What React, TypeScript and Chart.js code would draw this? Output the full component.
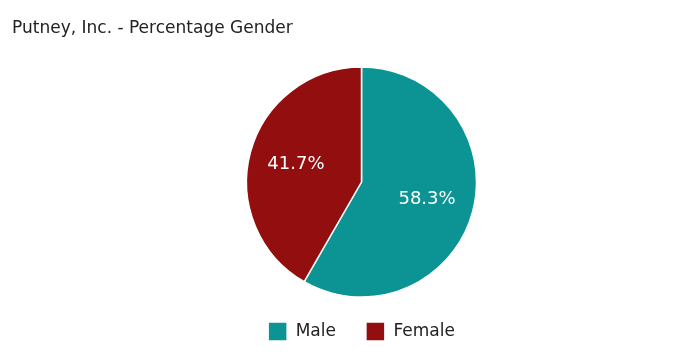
import React, { useEffect, useRef } from "react";
import { Chart, registerables } from "chart.js";

Chart.register(...registerables);

const categories = ["Male", "Female"];
const values = [58.3, 41.7];
const colors = ["#0c9495", "#930f0f"];
const titleText = "Putney, Inc. - Percentage Gender";
const FONT = "'DejaVu Sans', sans-serif";

const titlePlugin = {
  id: "customTitle",
  afterDraw(chart: any) {
    const ctx = chart.ctx;
    ctx.save();
    ctx.fillStyle = "#222";
    ctx.font = `17px ${FONT}`;
    ctx.textBaseline = "middle";
    ctx.textAlign = "left";
    ctx.fillText(titleText, 12, 29);
    ctx.restore();
  },
};

const labelPlugin = {
  id: "sliceLabels",
  afterDatasetsDraw(chart: any) {
    const ctx = chart.ctx;
    const meta = chart.getDatasetMeta(0);
    const data = chart.data.datasets[0].data as number[];
    ctx.save();
    ctx.fillStyle = "#ffffff";
    ctx.font = `18px ${FONT}`;
    ctx.textAlign = "center";
    ctx.textBaseline = "middle";
    meta.data.forEach((arc: any, i: number) => {
      const p = arc.getProps(["x", "y", "startAngle", "endAngle", "outerRadius"], true);
      const mid = (p.startAngle + p.endAngle) / 2;
      const r = p.outerRadius * 0.59;
      ctx.fillText(data[i].toFixed(1) + "%", p.x + Math.cos(mid) * r, p.y + Math.sin(mid) * r);
    });
    ctx.restore();
  },
};

export default function App() {
  const ref = useRef<HTMLCanvasElement>(null);
  useEffect(() => {
    if (!ref.current) return;
    const chart = new Chart(ref.current, {
      type: "pie",
      data: {
        labels: categories,
        datasets: [
          {
            data: values,
            backgroundColor: colors,
            borderColor: "#ffffff",
            borderWidth: 1.5,
            radius: 115,
          },
        ],
      },
      options: {
        animation: false,
        responsive: false,
        layout: { padding: { left: 25, top: 72, bottom: 12, right: 0 } },
        plugins: {
          tooltip: { enabled: false },
          title: { display: false },
          legend: {
            position: "bottom",
            labels: {
              boxWidth: 19,
              boxHeight: 19,
              padding: 30,
              color: "#222",
              font: { family: FONT, size: 17 },
            },
          },
        },
      },
      plugins: [titlePlugin, labelPlugin],
    });
    return () => chart.destroy();
  }, []);
  return (
    <div style={{ position: "absolute", left: 0, top: 0, width: 698, height: 363, background: "#fff" }}>
      <canvas ref={ref} width={698} height={363} />
    </div>
  );
}
